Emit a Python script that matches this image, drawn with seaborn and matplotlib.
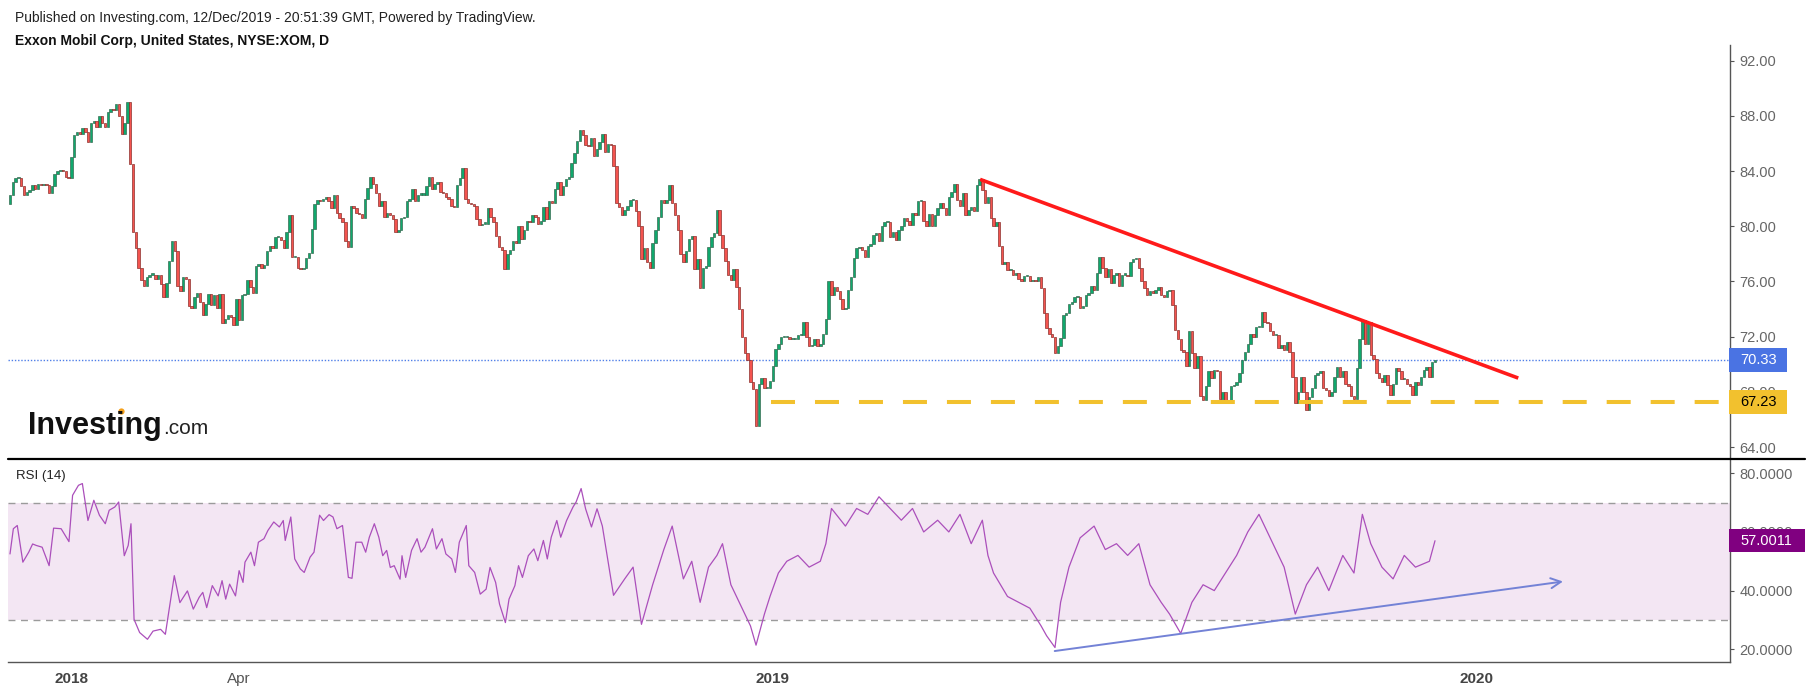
import matplotlib
matplotlib.use("Agg")
import matplotlib.pyplot as plt
import matplotlib.transforms as mtransforms
from matplotlib.patches import Rectangle
from matplotlib.lines import Line2D
import numpy as np
import seaborn as sns

sns.set_style("white")
plt.rcParams['font.family'] = ['Liberation Sans', 'DejaVu Sans']

# daily closes (Dec 2017 .. 12 Dec 2019)
first_open = 81.6
close_a = [
    82.3, 83.2, 83.5, 83.5, 82.9, 82.3, 82.5, 82.6, 83.0, 82.7,
    83.1, 83.0, 83.1, 83.0, 82.4, 82.9, 83.8, 84.0, 84.1, 84.0,
    83.6, 83.5, 85.0, 86.6, 86.8, 86.7, 87.1, 86.8, 86.1, 87.5,
    87.6, 87.2, 88.0, 87.5, 87.2, 88.3, 88.5, 88.4, 88.9, 88.0,
    86.7, 87.5, 89.0, 84.5, 79.6, 78.4, 77.0, 76.1, 75.7, 76.3,
    76.5, 76.5, 76.2, 76.5, 75.8, 74.9, 75.9, 77.5, 78.9, 78.2,
    75.7, 75.3, 76.3, 76.2, 74.2, 74.1, 74.9, 75.2, 74.5, 73.6,
    74.4, 75.1, 74.3, 75.0, 74.1, 75.1, 73.0, 73.3, 73.6, 73.4,
    72.85, 74.7, 73.2, 75.0, 75.1, 76.1, 75.6, 75.2, 77.1, 77.3,
    77.0, 77.2, 78.2, 78.6, 78.4, 79.2, 79.2, 79.0, 78.4, 79.6,
]
close_b = [
    80.8, 77.8, 77.8, 77.0, 76.9, 76.95, 77.7, 78.1, 79.8, 81.6,
    81.9, 81.8, 82.0, 82.1, 81.8, 81.3, 82.3, 81.0, 80.6, 80.3,
    78.9, 78.5, 81.5, 81.3, 81.0, 80.9, 80.6, 82.0, 82.8, 83.6,
    83.1, 82.4, 81.5, 81.8, 80.7, 81.0, 80.8, 80.5, 79.6, 79.7,
    80.6, 80.7, 81.8, 82.0, 82.7, 81.8, 82.3, 82.3, 82.3, 82.9,
    83.6, 82.7, 83.1, 83.2, 82.5, 82.4, 82.1, 82.0, 81.5, 81.4,
    83.0, 83.5, 84.2, 82.0, 81.7, 81.6, 81.5, 80.5, 80.1, 80.2,
    80.2, 81.3, 80.7, 80.3, 79.3, 78.5, 78.3, 76.9, 78.0, 78.3,
    78.9, 78.8, 80.0, 79.1, 79.7, 80.4, 80.3, 80.8, 80.7, 80.2,
    80.4, 81.4, 80.5, 81.8, 81.7, 82.7, 83.2, 82.3, 82.9, 83.4,
    83.6, 84.6,
]
close_c = [
    85.3, 86.2, 87.0, 86.6, 85.9, 85.8, 86.4, 85.1, 85.6, 86.1,
    86.7, 85.4, 86.0, 85.9, 84.4, 81.7, 81.4, 80.8, 81.2, 81.5,
    81.9, 81.9, 81.1, 80.0, 77.6, 78.4, 77.4, 77.0, 78.8, 79.7,
    80.7, 81.9, 81.7, 81.9, 83.0, 81.7, 80.8, 79.7, 78.0, 77.4,
    78.2, 79.1, 79.3, 76.9, 77.6, 75.5, 77.0, 77.1, 78.5, 79.2,
    79.5, 81.2, 79.4, 78.4, 77.5, 76.5, 76.1, 76.9, 75.6, 74.0,
    72.0, 70.8, 70.3, 68.7, 68.2, 65.5, 68.6, 69.0, 68.3, 68.3,
    68.8, 69.9, 71.1, 71.5, 72.0, 72.0, 72.0, 71.8, 71.8, 71.8,
    72.1, 72.1, 73.1, 72.0, 71.3, 71.4, 71.8, 71.3, 71.5, 72.2,
    73.3, 76.0, 75.0, 75.6, 75.3, 74.7, 74.0, 74.1, 75.4, 76.3,
    77.7, 78.4,
]
close_d = [
    78.5, 78.3, 77.8, 78.6, 78.7, 79.4, 79.5, 78.9, 80.0, 80.3,
    80.3, 79.2, 79.6, 79.0, 79.7, 80.0, 80.6, 80.4, 80.1, 81.0,
    80.8, 81.8, 81.8, 80.4, 80.0, 80.9, 80.0, 80.8, 81.3, 81.7,
    81.3, 80.8, 82.1, 82.5, 83.1, 81.9, 81.5, 82.4, 80.8, 81.2,
    81.4, 81.1, 83.0, 83.4, 82.6, 81.7, 82.1, 80.6, 80.0, 80.3,
    78.6, 77.3, 77.4, 76.8, 76.8, 76.5, 76.6, 76.2, 76.0, 76.4,
    76.4, 76.0, 76.1, 76.0, 76.3, 75.5, 73.7, 72.6, 72.2, 72.0,
    70.8, 71.3, 71.9, 73.6, 73.7, 74.4, 74.5, 74.9, 74.9, 74.1,
    74.2, 75.0, 75.2, 75.7, 75.4, 76.6, 77.8, 77.0, 76.3, 76.9,
    75.9, 76.5, 76.6, 75.7, 76.5, 76.5, 76.4, 77.4, 77.6, 77.7,
    77.0, 76.0,
]
close_e = [
    75.5, 75.0, 75.3, 75.2, 75.4, 75.6, 75.0, 74.9, 75.3, 75.4,
    74.3, 72.5, 71.8, 71.0, 70.9, 69.9, 72.4, 70.8, 69.7, 70.6,
    67.7, 67.4, 68.4, 69.5, 69.0, 69.6, 69.5, 67.5, 68.0, 67.2,
    67.3, 68.4, 68.5, 68.7, 69.4, 70.3, 70.9, 71.5, 72.2, 72.0,
    72.7, 72.7, 73.8, 73.1, 73.0, 72.4, 72.1, 72.1, 71.2, 71.4,
    71.0, 71.6, 70.9, 69.1, 67.2, 68.0, 69.1, 68.0, 66.7, 67.6,
    68.3, 69.2, 69.4, 69.5, 68.3, 68.1, 67.7, 68.0, 69.1, 69.8,
    69.1, 69.5, 68.6, 68.4, 67.7, 67.5, 69.7, 71.8, 73.2, 71.5,
    73.1, 70.7, 70.4, 69.4, 69.0, 68.7, 69.2, 68.5, 67.8, 68.6,
    69.7, 69.5, 68.9, 68.9, 68.6, 68.4, 67.8, 68.7, 68.5, 69.1,
    69.6, 69.8, 69.1, 70.2, 70.33,
]
closes = close_a + close_b + close_c + close_d + close_e

# RSI(14) points (bar index, value)
rsi_bar = [
    0, 1.2, 2.6, 4.6, 6.7, 8.1, 9.4, 11.5, 14.0, 15.6,
    18.3, 21.1, 22.4, 24.5, 25.9, 27.9, 30.0, 32.0, 34.1, 35.5,
    37.5, 38.9, 40.9, 42.3, 43.3, 44.4, 46.4, 49.2, 51.2, 53.9,
    55.6, 58.8, 60.8, 63.5, 65.6, 67.7, 69.0, 70.4, 72.4, 74.5,
    75.9, 77.2, 78.6, 80.7, 82.0, 83.4, 84.1, 86.2, 87.5, 88.9,
    90.9, 92.3, 94.4, 96.4, 97.8, 98.5, 100.5, 101.9, 103.9, 105.3,
    107.4, 108.8, 110.8, 112.2, 114.2, 115.6, 117.0, 119.0, 121.1, 122.4,
    123.8, 125.9, 127.3, 128.6, 130.4, 132.0, 133.4, 134.8, 136.1, 137.5,
    139.6, 140.3, 141.6, 143.7, 145.7, 147.1, 148.5, 151.2, 152.6, 154.6,
    156.0, 158.1, 159.4, 160.8, 163.3, 164.2, 166.3, 168.3, 170.4, 171.8,
    173.8, 175.2, 177.3, 178.6, 180.7, 182.0, 183.4, 185.5, 187.5, 188.9,
    190.9, 192.3, 193.7, 195.7, 197.1, 199.2, 201.5, 202.6, 204.4, 206.0,
    208.1, 210.1,
    212, 216, 220, 223, 226, 230, 234, 237, 241, 244,
    247, 250, 253, 255, 258, 261, 263, 265, 267, 270,
    272, 275, 278, 282, 286, 290, 292, 294, 299, 303,
    307, 311, 315, 319, 323, 327, 332, 336, 340, 344,
    348, 350, 352, 357, 361, 365, 369, 371, 374, 376,
    379, 383, 388, 392, 396, 400, 404, 408, 412, 415,
    419, 423, 427, 431, 435, 439, 443, 447, 452, 456,
    460, 464, 468, 472, 477, 481, 484, 487, 491, 495,
    499, 503, 508, 510,
]
rsi_val = [
    52.5, 61.1, 62.2, 49.7, 53.1, 55.9, 55.4, 54.8, 48.5, 61.3,
    61.1, 56.7, 72.5, 75.9, 76.5, 63.9, 70.8, 65.7, 62.8, 67.4,
    68.5, 70.2, 51.9, 55.4, 62.8, 30.2, 25.7, 23.4, 26.2, 26.8,
    25.1, 45.1, 35.9, 39.9, 33.7, 37.7, 39.4, 34.2, 41.7, 38.2,
    43.4, 37.1, 42.2, 38.2, 46.8, 42.8, 49.7, 53.1, 48.5, 56.5,
    57.7, 60.5, 63.4, 61.7, 63.9, 57.1, 65.1, 50.8, 47.4, 46.2,
    51.4, 53.1, 65.7, 63.9, 65.9, 65.1, 61.1, 62.2, 44.5, 44.2,
    56.5, 56.5, 53.1, 58.2, 62.8, 58.2, 51.9, 53.7, 47.9, 48.5,
    43.9, 51.9, 44.5, 53.7, 57.7, 53.1, 54.8, 61.1, 54.2, 57.7,
    52.5, 50.8, 46.2, 56.5, 62.2, 48.5, 46.2, 38.8, 40.5, 47.9,
    42.8, 35.4, 29.1, 37.1, 41.7, 48.5, 44.5, 51.9, 54.2, 50.2,
    57.1, 50.8, 58.2, 63.9, 58.2, 63.9, 68.5, 70.2, 74.8, 67.9,
    61.7, 67.9,
    62, 38.4, 44, 48, 28.5, 42, 54, 62, 44, 50,
    36, 48, 52, 56, 42, 36, 32, 28, 21.4, 32,
    38, 46, 50, 52, 48, 50, 56, 68, 62, 68,
    66, 72, 68, 64, 68, 60, 64, 60, 66, 56,
    64, 52, 46, 38, 36, 34, 28, 24.6, 20.6, 36,
    48, 58, 62, 54, 56, 52, 56, 42, 36, 32,
    25.4, 36, 42, 40, 46, 52, 60, 66, 56, 48,
    32, 42, 48, 40, 52, 46, 66, 56, 48, 44,
    52, 48, 50, 57.0,
]

last_close = 70.33
support_level = 67.23
last_rsi = 57.0011

# drawings on the chart (bar index, value)
trend_x = [347.2, 539.8]
trend_y = [83.4, 69.0]
support_start = 272.5
arrow_x = [373.9, 555.8]
arrow_y = [19.4, 43.1]

price_ticks = [64, 68, 72, 76, 80, 84, 88, 92]
rsi_ticks = [20, 40, 60, 80]
date_ticks = [22, 82, 125, 167, 209, 273, 334, 377, 419, 461, 525, 565, 608]
date_labels = ["2018", "Apr", "", "", "", "2019", "", "", "", "", "2020", "", ""]

W, H = 1813, 695
fig = plt.figure(figsize=(W / 100, H / 100), dpi=100)
fig.patch.set_facecolor("white")


def px_box(left, top, right, bottom):
    return [left / W, 1 - bottom / H, (right - left) / W, (bottom - top) / H]


ax_p = fig.add_axes(px_box(8, 45, 1730, 457))
ax_r = fig.add_axes(px_box(8, 460, 1730, 662))

n = len(closes)
c = np.array(closes)
o = np.array([first_open] + closes[:-1])
x = np.arange(n)
up = c >= o
lo = np.minimum(o, c)
hgt = np.maximum(np.abs(c - o), 0.08)

ax_p.bar(x[up], hgt[up], bottom=lo[up], width=0.88, color="#10a86d",
         edgecolor="#2f6047", linewidth=0.45, zorder=3)
ax_p.bar(x[~up], hgt[~up], bottom=lo[~up], width=0.88, color="#f4544f",
         edgecolor="#7e2420", linewidth=0.45, zorder=3)

# bar 0 sits at 10px, last bar at 1435px
ppb = (1435 - 10) / (n - 1)
xlim = (-(10 - 8) / ppb, (n - 1) + (1730 - 1435) / ppb)

ax_p.axhline(last_close, color="#4f7fe8", lw=1.0, ls=(0, (1, 1.3)), zorder=2)
ax_p.plot([support_start, xlim[1]], [support_level, support_level], color="#f2c12e",
          lw=2.9, ls=(0, (5.96, 4.96)), dash_capstyle="butt", zorder=4)
ax_p.plot(trend_x, trend_y, color="#ff1a1a", lw=2.6, solid_capstyle="butt", zorder=5)

ax_r.axhspan(30, 70, color="#f3e6f3", zorder=0, lw=0)
for lvl in (70, 30):
    ax_r.axhline(lvl, color="#9b9b9b", lw=1.0, ls=(0, (5, 4)), zorder=1)
sns.lineplot(x=rsi_bar, y=rsi_val, ax=ax_r, color="#ab4fbb", lw=0.9, zorder=3)
ax_r.annotate("", xy=(arrow_x[1], arrow_y[1]), xytext=(arrow_x[0], arrow_y[0]),
              arrowprops=dict(arrowstyle="->", color="#7382d6", lw=1.4,
                              mutation_scale=18, shrinkA=0, shrinkB=0), zorder=4)

ax_p.set_xlim(*xlim)
ax_r.set_xlim(*xlim)
ax_p.set_ylim(63.28, 93.14)
ax_r.set_ylim(15.66, 84.53)

for ax in (ax_p, ax_r):
    for side in ("left", "top", "bottom"):
        ax.spines[side].set_visible(False)
    ax.spines["right"].set_color("#555555")
    ax.spines["right"].set_linewidth(1.0)
    ax.yaxis.tick_right()
    ax.tick_params(axis="y", direction="out", length=3, width=0.8, color="#555555",
                   labelsize=10.5, labelcolor="#666666", pad=4)
    ax.set_xlabel("")
    ax.set_ylabel("")

ax_p.set_xticks([])
ax_p.set_yticks(price_ticks)
ax_p.set_yticklabels([f"{v:.2f}" for v in price_ticks])
ax_r.set_yticks(rsi_ticks)
ax_r.set_yticklabels([f"{v:.4f}" for v in rsi_ticks])

ax_r.spines["bottom"].set_visible(True)
ax_r.spines["bottom"].set_color("#555555")
ax_r.spines["bottom"].set_linewidth(1.0)
ax_r.set_xticks(date_ticks)
ax_r.set_xticklabels(date_labels)
ax_r.tick_params(axis="x", direction="out", length=5, width=0.8, color="#555555",
                 labelsize=11, labelcolor="#555555", pad=2)
for lab in ax_r.get_xticklabels():
    if lab.get_text().isdigit():
        lab.set_fontweight("bold")
        lab.set_color("#444444")

# value tags on the right scale
ident = mtransforms.IdentityTransform()


def value_tag(ax, value, text, fc, tc, right_px, h_px):
    y = ax.transData.transform((0, value))[1]
    fig.add_artist(Rectangle((1729, y - h_px / 2), right_px - 1729, h_px,
                             transform=ident, facecolor=fc, edgecolor="none", zorder=5))
    fig.text(1740 / W, y / H, text, color=tc, fontsize=10.5, va="center", ha="left", zorder=6)


value_tag(ax_p, last_close, f"{last_close:.2f}", "#4a73e3", "white", 1787, 24)
value_tag(ax_p, support_level, f"{support_level:.2f}", "#f2c12e", "black", 1787, 24)
value_tag(ax_r, last_rsi, f"{last_rsi:.4f}", "#800080", "white", 1805, 23)

# pane separator
fig.add_artist(Line2D([8 / W, 1805 / W], [1 - 459 / H, 1 - 459 / H], color="black", lw=1.6))

# header
fig.text(15 / W, 1 - 18 / H, "Published on Investing.com, 12/Dec/2019 - 20:51:39 GMT, Powered by TradingView.",
         fontsize=10, color="#222222", va="center", ha="left")
fig.text(15 / W, 1 - 41 / H, "Exxon Mobil Corp, United States, NYSE:XOM, D",
         fontsize=10, fontweight="bold", color="#111111", va="center", ha="left")
fig.text(16 / W, 1 - 476 / H, "RSI (14)", fontsize=9.5, color="#222222", va="center", ha="left")

# logo
fig.text(28 / W, 1 - 434 / H, "Investing", fontsize=22, fontweight="bold", color="#111111",
         va="baseline", ha="left")
fig.text(163 / W, 1 - 434 / H, ".com", fontsize=15, color="#222222", va="baseline", ha="left")
fig.add_artist(Line2D([121 / W], [1 - 411 / H], marker="o", markersize=4.5,
                      color="#f5a01a", markeredgewidth=0))

fig.savefig("out.png", dpi=100, facecolor="white")
